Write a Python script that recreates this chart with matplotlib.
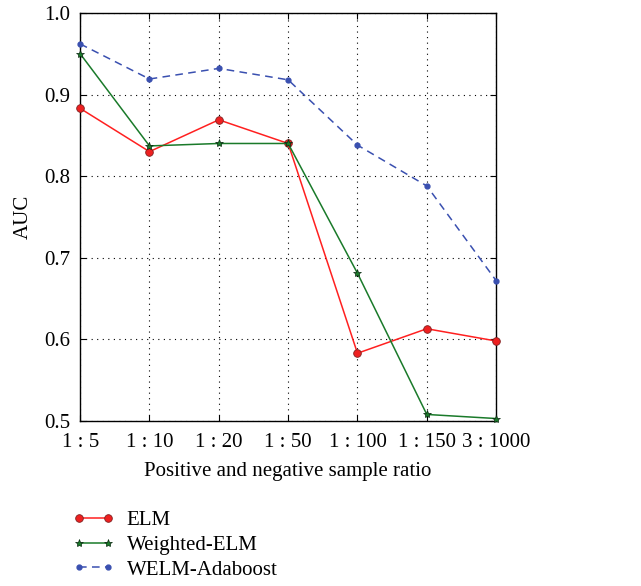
import matplotlib.pyplot as plt

plt.rcParams['font.family'] = ['Liberation Serif', 'DejaVu Serif']

ratios = ['1 : 5', '1 : 10', '1 : 20', '1 : 50', '1 : 100', '1 : 150', '3 : 1000']
elm = [0.883, 0.830, 0.869, 0.840, 0.583, 0.613, 0.598]
welm = [0.950, 0.837, 0.840, 0.840, 0.681, 0.508, 0.503]
welm_ada = [0.962, 0.919, 0.932, 0.918, 0.838, 0.788, 0.672]

fig = plt.figure(figsize=(6.41, 5.86), dpi=100)
ax = fig.add_axes([0.125, 0.2816, 0.649, 0.6964])

x = range(len(ratios))
ax.plot(x, elm, color='#ff2020', lw=1.1, marker='o', ms=5.5,
        mfc='#ee2020', mec='#802020', mew=0.6, label='ELM', clip_on=False, zorder=3)
ax.plot(x, welm, color='#1a7a2a', lw=1.1, marker='*', ms=6,
        mfc='#1a7a2a', mec='#0a2a10', mew=0.5, label='Weighted-ELM', clip_on=False, zorder=3)
ax.plot(x, welm_ada, color='#3a50b0', lw=1.1, ls=(0, (5, 3.5)), marker='o', ms=3.5,
        mfc='#3a50b0', mec='#3a50b0', label='WELM-Adaboost', clip_on=False, zorder=3)

ax.set_xlim(0, len(ratios) - 1)
ax.set_ylim(0.5, 1.0)
ax.set_xticks(list(x))
ax.set_xticklabels(ratios)
ax.set_yticks([0.5, 0.6, 0.7, 0.8, 0.9, 1.0])
ax.tick_params(direction='in', top=True, right=True, labelsize=15, length=4)
ax.tick_params(axis='x', pad=9)
ax.tick_params(axis='y', pad=7)
ax.grid(True, color='black', ls=(0, (1, 4)), lw=0.8)
for s in ax.spines.values():
    s.set_linewidth(1.0)
ax.set_xlabel('Positive and negative sample ratio', fontsize=15, labelpad=7)
ax.set_ylabel('AUC', fontsize=15, labelpad=8)

fig.legend(loc='upper left', bbox_to_anchor=(0.1, 0.143), frameon=False,
           fontsize=15, numpoints=2, handlelength=2.0, handletextpad=0.6,
           labelspacing=0.25, borderaxespad=0)

fig.savefig('out.png', dpi=100)
